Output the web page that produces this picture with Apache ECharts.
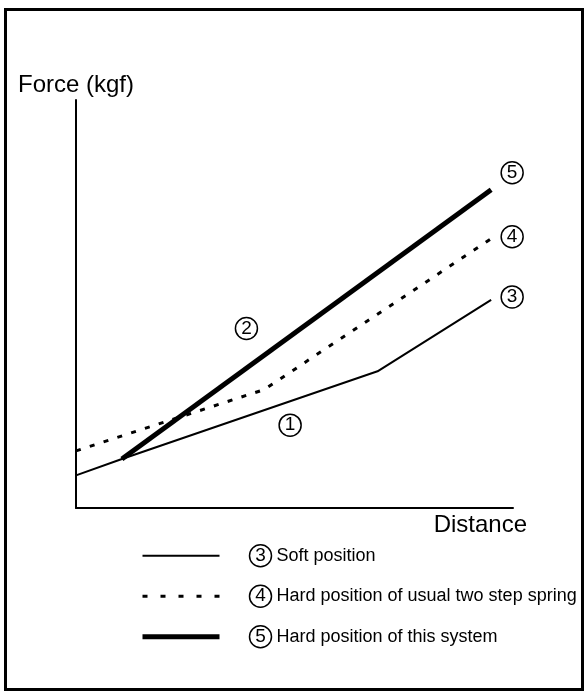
<!DOCTYPE html>
<html>
<head>
<meta charset="utf-8">
<script src="https://cdn.jsdelivr.net/npm/echarts@6/dist/echarts.min.js"></script>
<style>
  html, body { margin: 0; padding: 0; background: #fff; }
  #chart { width: 587px; height: 693px; }
</style>
</head>
<body>
<div id="chart"></div>
<script>
// Force vs. distance curves for the three spring settings
const seriesNames = ['Soft position', 'Hard position of usual two step spring', 'Hard position of this system'];
const seriesMarks = ['3', '4', '5'];
const softPosition = [[0, 8], [10.5, 12], [69, 33.5], [95, 51]];
const usualTwoStep = [[0, 14], [43, 29], [95, 66]];
const thisSystem = [[10.5, 12], [95, 78]];
// Circled callouts on the individual segments
const segmentMarks = ['1', '2'];
const segmentMarkAt = [[49, 20.3], [39, 44]];

const FONT = '"Liberation Sans", Arial, Helvetica, sans-serif';
const circled = {
  width: 20, height: 20, lineHeight: 20, align: 'center', verticalAlign: 'middle',
  borderColor: '#000', borderWidth: 1.5, borderRadius: 11,
  fontSize: 19, fontFamily: FONT, color: '#000', padding: [1, 1, 1, 1],
  textBorderWidth: 0, opacity: 1
};

function endMark(i, dy) {
  return {
    show: true,
    formatter: () => '{c|' + seriesMarks[i] + '}',
    distance: 10,
    offset: [0, dy],
    color: '#000',
    textBorderWidth: 0,
    rich: { c: circled }
  };
}

const hiddenSymbol = { opacity: 0, color: 'transparent', borderWidth: 0 };

const chart = echarts.init(document.getElementById('chart'), null, { renderer: 'canvas' });
chart.setOption({
  animation: false,
  backgroundColor: '#fff',
  color: ['#000', '#000', '#000', '#000'],
  grid: { left: 76, right: 74, top: 100, bottom: 185 },
  xAxis: {
    type: 'value', min: 0, max: 100,
    name: 'Distance', nameLocation: 'end', nameGap: 14,
    nameTextStyle: { fontSize: 24, fontFamily: FONT, color: '#000', align: 'right', verticalAlign: 'top', padding: [5, 0, 0, 0] },
    axisLine: { lineStyle: { color: '#000', width: 2 } },
    axisTick: { show: false }, axisLabel: { show: false }, splitLine: { show: false }
  },
  yAxis: {
    type: 'value', min: 0, max: 100,
    name: 'Force (kgf)', nameLocation: 'end', nameGap: 3,
    nameTextStyle: { fontSize: 24, fontFamily: FONT, color: '#000' },
    axisLine: { show: true, lineStyle: { color: '#000', width: 2 } },
    axisTick: { show: false }, axisLabel: { show: false }, splitLine: { show: false }
  },
  legend: {
    orient: 'vertical', left: 140, top: 544, padding: 0,
    itemWidth: 77, itemHeight: 14, itemGap: 17, selectedMode: false,
    data: [
      { name: seriesNames[0], lineStyle: { width: 2 }, itemStyle: hiddenSymbol },
      { name: seriesNames[1], lineStyle: { width: 3, type: [5, 13] }, itemStyle: hiddenSymbol },
      { name: seriesNames[2], lineStyle: { width: 5 }, itemStyle: hiddenSymbol }
    ],
    formatter: name => '{g|}{c|' + seriesMarks[seriesNames.indexOf(name)] + '}{t| ' + name + '}',
    textStyle: {
      rich: {
        g: { width: 25 },
        c: circled,
        t: { fontSize: 18, fontFamily: FONT, color: '#000' }
      }
    }
  },
  graphic: [{
    type: 'rect', silent: true,
    shape: { x: 5.5, y: 9.5, width: 577, height: 680 },
    style: { fill: null, stroke: '#000', lineWidth: 3 }
  }],
  series: [
    {
      name: seriesNames[0], type: 'line', data: softPosition, symbol: 'none',
      itemStyle: { color: '#000' },
      lineStyle: { color: '#000', width: 2 },
      endLabel: endMark(0, -3)
    },
    {
      name: seriesNames[1], type: 'line', data: usualTwoStep, symbol: 'none',
      itemStyle: { color: '#000' },
      lineStyle: { color: '#000', width: 3, type: [5, 9.5] },
      endLabel: endMark(1, -2)
    },
    {
      name: seriesNames[2], type: 'line', data: thisSystem, symbol: 'none',
      itemStyle: { color: '#000' },
      lineStyle: { color: '#000', width: 5 },
      endLabel: endMark(2, -17)
    },
    {
      name: 'segments', type: 'scatter', symbolSize: 1, silent: true,
      itemStyle: { color: 'transparent', opacity: 1 },
      data: segmentMarkAt.map((p, i) => ({ value: p, name: segmentMarks[i] })),
      label: {
        show: true, position: 'inside', color: '#000', textBorderWidth: 0, opacity: 1,
        formatter: p => '{c|' + p.name + '}',
        rich: { c: circled }
      }
    }
  ]
});
</script>
</body>
</html>
